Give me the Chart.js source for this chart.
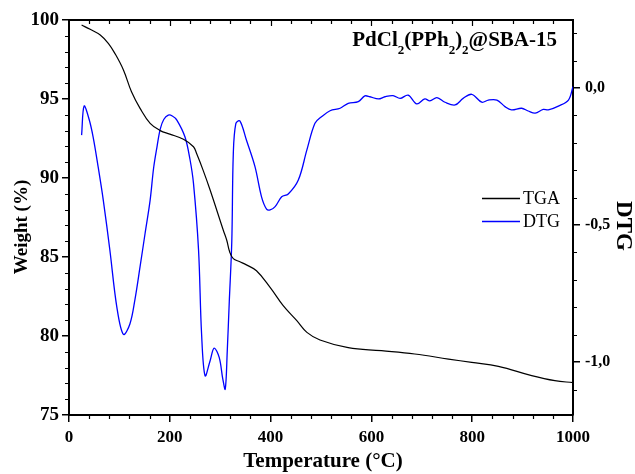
<!DOCTYPE html>
<html>
<head>
<meta charset="utf-8">
<script src="https://cdn.jsdelivr.net/npm/chart.js@4.4.1/dist/chart.umd.min.js"></script>
<style>
html, body { margin: 0; padding: 0; background: #fff; }
#wrap { width: 635px; height: 474px; position: relative; }
</style>
</head>
<body>
<div id="wrap"><canvas id="tgaChart"></canvas></div>
<script>
// TGA curve: temperature (°C) and remaining weight (%)
const TGA_TEMP = [25, 42, 62, 78, 91, 108, 124, 141, 161, 181,
                  200, 227, 247, 253, 266, 280, 306, 313, 319, 326,
                  339, 352, 372, 399, 425, 452, 472, 498, 554, 620,
                  686, 753, 799, 852, 918, 964, 1000];
const TGA_WEIGHT = [99.68, 99.41, 99.05, 98.52, 97.89, 96.84, 95.46, 94.41, 93.46, 93.0,
                    92.78, 92.45, 91.98, 91.56, 90.5, 89.24, 86.71, 86.06, 85.3, 84.9,
                    84.7, 84.5, 84.13, 83.08, 81.92, 80.97, 80.23, 79.75, 79.26, 79.07,
                    78.86, 78.54, 78.33, 78.08, 77.49, 77.17, 77.05];

// DTG curve: temperature (°C) and derivative
const DTG_TEMP = [25, 30, 40, 48, 58, 68, 81, 95, 108, 121,
                  131, 141, 151, 161, 168, 175, 181, 188, 197, 205,
                  214, 230, 240, 247, 257, 263, 270, 280, 288, 298,
                  305, 310, 314, 318, 323, 326, 331, 339, 352, 369,
                  382, 392, 399, 409, 422, 435, 455, 472, 488, 501,
                  518, 538, 554, 574, 587, 597, 614, 627, 643, 657,
                  673, 690, 706, 716, 730, 746, 766, 782, 799, 819,
                  832, 849, 865, 878, 898, 911, 925, 941, 951, 971,
                  991, 1000];
const DTG_VALUE = [-0.172, -0.066, -0.115, -0.18, -0.29, -0.409, -0.59, -0.80, -0.899, -0.86,
                   -0.77, -0.652, -0.53, -0.409, -0.29, -0.21, -0.15, -0.115, -0.099, -0.102,
                   -0.117, -0.178, -0.26, -0.348, -0.59, -0.895, -1.05, -0.995, -0.949, -0.983,
                   -1.06, -1.099, -0.96, -0.78, -0.56, -0.24, -0.13, -0.12, -0.19, -0.287,
                   -0.397, -0.442, -0.445, -0.433, -0.397, -0.387, -0.336, -0.226, -0.129, -0.105,
                   -0.083, -0.074, -0.056, -0.05, -0.029, -0.032, -0.04, -0.032, -0.028, -0.038,
                   -0.026, -0.058, -0.04, -0.047, -0.035, -0.052, -0.062, -0.038, -0.023, -0.052,
                   -0.044, -0.044, -0.068, -0.08, -0.074, -0.084, -0.092, -0.078, -0.08, -0.066,
                   -0.044, 0.005];

const X_TICKS = [0, 200, 400, 600, 800, 1000];
const WEIGHT_TICKS = [75, 80, 85, 90, 95, 100];
const DTG_TICKS = [-1.0, -0.5, 0.0];
const SERIES_LABELS = ['TGA', 'DTG'];
const X_TITLE = 'Temperature (°C)';
const Y_TITLE = 'Weight (%)';
const Y1_TITLE = 'DTG';
// chart title pieces: [text, isSubscript]
const CHART_TITLE = [['PdCl', false], ['2', true], ['(PPh', false], ['2', true], [')', false], ['2', true], ['@SBA-15', false]];

const FONT = 'Liberation Serif';

const decorations = {
  id: 'decorations',
  afterDraw(chart) {
    const ctx = chart.ctx;
    const a = chart.chartArea;
    const sx = chart.scales.x, sy = chart.scales.y, sy1 = chart.scales.y1;
    ctx.save();
    ctx.strokeStyle = '#000';

    // top frame line
    ctx.lineWidth = 2;
    ctx.beginPath();
    ctx.moveTo(a.left - 1, a.top);
    ctx.lineTo(a.right + 1, a.top);
    ctx.stroke();

    // minor ticks
    ctx.lineWidth = 1.2;
    ctx.beginPath();
    for (let t = 40; t < 1000; t += 40) {
      const px = Math.round(sx.getPixelForValue(t)) + 0.5;
      const major = t % 200 === 0;
      if (!major) { ctx.moveTo(px, a.bottom); ctx.lineTo(px, a.bottom + 4); }
      ctx.moveTo(px, a.top); ctx.lineTo(px, a.top + (major ? 6 : 4));
    }
    for (let w = 76; w < 100; w++) {
      if (w % 5 === 0) continue;
      const py = Math.round(sy.getPixelForValue(w)) + 0.5;
      ctx.moveTo(a.left - 4, py); ctx.lineTo(a.left, py);
    }
    for (let k = -11; k <= 2; k++) {
      if (k % 5 === 0) continue;
      const py = Math.round(sy1.getPixelForValue(k / 10)) + 0.5;
      ctx.moveTo(a.right, py); ctx.lineTo(a.right + 4, py);
    }
    ctx.stroke();

    // axis titles
    ctx.fillStyle = '#000';
    ctx.textAlign = 'center';
    ctx.textBaseline = 'middle';
    ctx.font = 'bold 21px "' + FONT + '"';
    ctx.fillText(X_TITLE, 323, 462);

    ctx.save();
    ctx.translate(22, 227);
    ctx.rotate(-Math.PI / 2);
    ctx.font = 'bold 19px "' + FONT + '"';
    ctx.fillText(Y_TITLE, 0, 0);
    ctx.restore();

    ctx.save();
    ctx.translate(623, 226);
    ctx.rotate(Math.PI / 2);
    ctx.font = 'bold 23px "' + FONT + '"';
    ctx.fillText(Y1_TITLE, 0, 0);
    ctx.restore();

    // legend
    ctx.textAlign = 'left';
    ctx.font = '18px "' + FONT + '"';
    chart.data.datasets.forEach((ds, i) => {
      const ly = 198 + i * 23;
      ctx.strokeStyle = ds.borderColor;
      ctx.lineWidth = 1.3;
      ctx.beginPath();
      ctx.moveTo(482, ly + 0.5);
      ctx.lineTo(520, ly + 0.5);
      ctx.stroke();
      ctx.fillText(ds.label, 523, ly + 1);
    });

    // chart title with subscripts
    ctx.textBaseline = 'alphabetic';
    const mainFont = 'bold 21px "' + FONT + '"';
    const subFont = 'bold 13px "' + FONT + '"';
    let total = 0;
    CHART_TITLE.forEach(([txt, sub]) => {
      ctx.font = sub ? subFont : mainFont;
      total += ctx.measureText(txt).width;
    });
    let tx = 557 - total;
    CHART_TITLE.forEach(([txt, sub]) => {
      ctx.font = sub ? subFont : mainFont;
      ctx.fillText(txt, tx, sub ? 54 : 46);
      tx += ctx.measureText(txt).width;
    });

    ctx.restore();
  }
};

const tickFont = (size) => ({ family: FONT, size: size, weight: 'bold' });
const axisGrid = { drawOnChartArea: false, tickLength: 7, color: '#000', lineWidth: 1.5 };
const axisBorder = { color: '#000', width: 2 };

const dataTGA = {
  datasets: [
    {
      label: SERIES_LABELS[0],
      data: TGA_TEMP.map((t, i) => ({ x: t, y: TGA_WEIGHT[i] })),
      borderColor: '#000000',
      borderWidth: 1.2,
      pointRadius: 0,
      tension: 0.4,
      yAxisID: 'y'
    },
    {
      label: SERIES_LABELS[1],
      data: DTG_TEMP.map((t, i) => ({ x: t, y: DTG_VALUE[i] })),
      borderColor: '#0000ff',
      borderWidth: 1.3,
      pointRadius: 0,
      tension: 0.35,
      yAxisID: 'y1'
    }
  ]
};

const configTGA = {
  type: 'line',
  data: dataTGA,
  options: {
    responsive: true,
    maintainAspectRatio: false,
    animation: false,
    layout: { padding: { top: 20, left: 0, right: 0, bottom: 0 } },
    plugins: {
      legend: { display: false },
      tooltip: { enabled: false },
      title: { display: false }
    },
    scales: {
      x: {
        type: 'linear',
        min: 0,
        max: 1000,
        afterBuildTicks: s => { s.ticks = X_TICKS.map(v => ({ value: v })); },
        afterFit: s => { s.height = 59; },
        ticks: {
          font: tickFont(17),
          color: '#000',
          padding: 5,
          maxRotation: 0,
          autoSkip: false,
          callback: v => String(v)
        },
        grid: axisGrid,
        border: axisBorder
      },
      y: {
        position: 'left',
        min: 75,
        max: 100,
        afterBuildTicks: s => { s.ticks = WEIGHT_TICKS.map(v => ({ value: v })); },
        afterFit: s => { s.width = 69; },
        ticks: { font: tickFont(19), color: '#000', padding: 3, callback: v => String(v) },
        grid: axisGrid,
        border: axisBorder
      },
      y1: {
        position: 'right',
        min: -1.193,
        max: 0.248,
        afterBuildTicks: s => { s.ticks = DTG_TICKS.map(v => ({ value: v })); },
        afterFit: s => { s.width = 62; },
        ticks: {
          font: tickFont(16),
          color: '#000',
          padding: 5,
          callback: v => v.toFixed(1).replace('.', ',')
        },
        grid: axisGrid,
        border: axisBorder
      }
    }
  },
  plugins: [decorations]
};

var tgaChart = new Chart(document.getElementById('tgaChart'), configTGA);
</script>
</body>
</html>
